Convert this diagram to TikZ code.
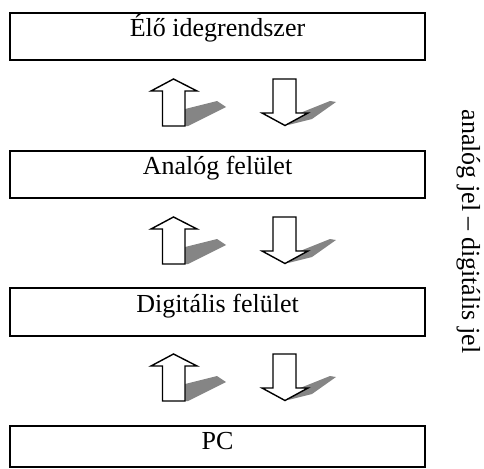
\documentclass[tikz,border=0pt]{standalone}
\usepackage{fontspec}
\setmainfont{Liberation Serif}
\usetikzlibrary{calc}
\tikzset{
  layerbox/.style={draw=black, line width=2pt, minimum width=415pt, inner sep=0pt},
  boxlabel/.style={anchor=base, inner sep=0pt, font=\fontsize{26}{30}\selectfont},
  arrowshape/.style={draw=black, fill=white, line width=1.4pt, line join=miter},
  shadowshape/.style={fill=black!48, draw=none}
}
\begin{document}
\begin{tikzpicture}[x=1pt, y=-1pt]
\useasboundingbox (0,0) rectangle (484,468);
% layer boxes
\node[layerbox, minimum height=47pt] (b1) at (217.5,36.5) {};
\node[layerbox, minimum height=47pt] (b2) at (217.5,174.5) {};
\node[layerbox, minimum height=48pt] (b3) at (217.5,312) {};
\node[layerbox, minimum height=41pt] (b4) at (217.5,446.5) {};
\node[boxlabel] (t1) at ($(b1.north)+(0,25)$) {Élő idegrendszer};
\node[boxlabel] (t2) at ($(b2.north)+(0,24.5)$) {Analóg felület};
\node[boxlabel] (t3) at ($(b3.north)+(0,25)$) {Digitális felület};
\node[boxlabel] (t4) at ($(b4.north)+(0,24.5)$) {PC};
% arrows between layers
\foreach \dy in {0,138,275}{
  \begin{scope}[yshift=-\dy pt]
    % shadows
    \fill[shadowshape] (185,126) -- (185,109) -- (217,101) -- (226,107) -- (188,126) -- cycle;
    \fill[shadowshape] (300,113) -- (330,101) -- (336,102) -- (312,119) -- (288,125) -- cycle;
    % up arrow
    \draw[arrowshape] (173.5,79) -- (197,91) -- (185,91) -- (185,126) -- (162.5,126) -- (162.5,91) -- (151,91) -- cycle;
    % down arrow
    \draw[arrowshape] (273,79) -- (296,79) -- (296,113) -- (308,113) -- (285,125.5) -- (262,113) -- (273,113) -- cycle;
  \end{scope}
}
% side label
\node[boxlabel, rotate=-90] (side) at (462,231.5) {analóg jel – digitális jel};
\end{tikzpicture}
\end{document}
